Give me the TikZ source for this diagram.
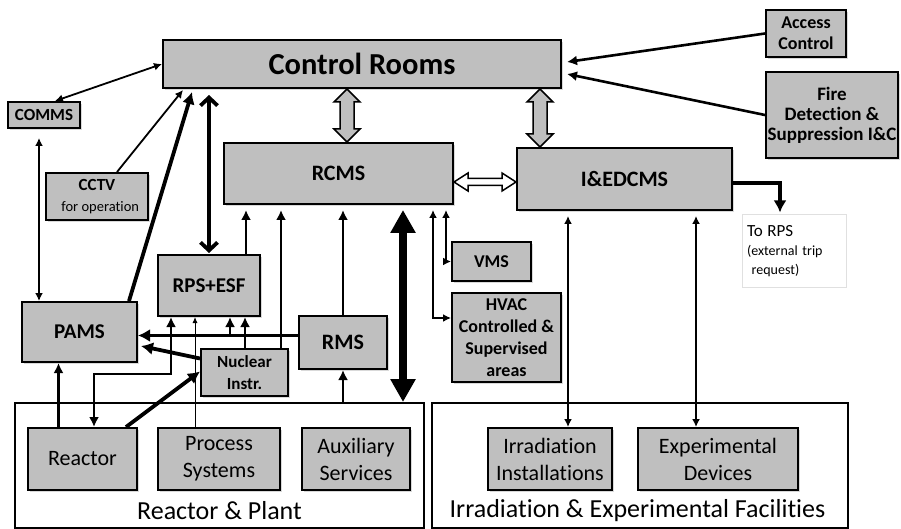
\documentclass[tikz,border=0pt]{standalone}
\usepackage{fontspec}
\setmainfont{Carlito}[Ligatures=NoCommon]
\usetikzlibrary{arrows.meta,calc,shadows}
\definecolor{boxgray}{HTML}{BFBFBF}
\newcommand\fsz[2]{\fontsize{#1}{#2}\selectfont}
\begin{document}
\begin{tikzpicture}[x=1pt,y=-1pt,
  box/.style={draw, fill=boxgray, line width=2pt, inner sep=0pt, align=center,
    font=\bfseries\fsz{17}{21},
    drop shadow={shadow xshift=2pt,shadow yshift=-2pt,opacity=0.3}},
  plainbox/.style={box, font=\fsz{22}{27}},
  frame/.style={draw, line width=2pt, fill=white, inner sep=0pt},
  thinarr/.style={line width=1.8pt, >={Latex[length=8pt,width=8pt]}},
  medarr/.style={line width=2.6pt, >={Latex[length=10pt,width=10pt]}},
  thickarr/.style={line width=3.8pt, >={Latex[length=12pt,width=13pt]}},
  barbarr/.style={line width=3.8pt, >={Straight Barb[length=8pt,width=17pt]}},
  bigarr/.style={line width=8pt, {Triangle[length=23pt,width=24pt]}-{Triangle[length=23pt,width=24pt]}},
  hairarr/.style={line width=0.9pt, >={Latex[length=6pt,width=5pt]}},
  gap/.style={shorten >=5pt},
  fatv/.style={draw, line width=1.5pt, fill=boxgray, line join=miter},
  fath/.style={draw, line width=1.5pt, fill=white, line join=miter},
  torpsbox/.style={draw=black!12, line width=1pt, fill=white, inner sep=0pt, align=left,
    text width=94pt, font=\fsz{14}{19}},
  framelabel/.style={font=\fsz{26}{30}},
]
\useasboundingbox (0,0) rectangle (901,529);

% frames
\node[frame, minimum width=409pt, minimum height=125pt] (rp) at (219.5,465.5) {};
\node[frame, minimum width=416pt, minimum height=125pt] (ief) at (640,465.5) {};
\node[framelabel] (rplab) at (219.5,511) {Reactor \& Plant};
\node[framelabel] (ieflab) at (637.5,511) {Irradiation \& Experimental Facilities};

% boxes
\node[box, minimum width=398pt, minimum height=48pt, font=\bfseries\fsz{30.5}{34}] (cr) at (362,64) {Control Rooms};
\node[box, minimum width=72pt, minimum height=26pt] (comms) at (44,115) {COMMS};
\node[box, minimum width=102pt, minimum height=47pt] (cctv) at (97,196.5) {CCTV\\{\mdseries\fsz{14.5}{17}\ \ for operation}};
\node[box, minimum width=229pt, minimum height=61pt, font=\bfseries\fsz{22}{26}] (rcms) at (338.5,173.5) {RCMS};
\node[box, minimum width=215pt, minimum height=62pt, font=\bfseries\fsz{22}{26}] (ied) at (624.5,179) {I\&EDCMS};
\node[box, minimum width=80pt, minimum height=47pt, font=\bfseries\fsz{18}{21}] (acc) at (806,33.5) {Access\\Control};
\node[box, minimum width=132pt, minimum height=86pt, font=\bfseries\fsz{19}{20}] (fire) at (832,115) {Fire\\Detection \&\\Suppression I\&C};
\node[torpsbox, minimum width=104pt, minimum height=72pt] (torps) at (794,251) {{\fsz{17}{19}To RPS}\\(external trip\\\ request)};
\node[box, minimum width=115pt, minimum height=60pt, font=\bfseries\fsz{21}{25}] (pams) at (79.5,332) {PAMS};
\node[box, minimum width=102pt, minimum height=61pt, font=\bfseries\fsz{21}{25}] (rps) at (209,285.5) {RPS+ESF};
\node[box, minimum width=87pt, minimum height=47pt, font=\bfseries\fsz{17}{22}] (nuc) at (244.5,372.5) {Nuclear\\Instr.};
\node[box, minimum width=88pt, minimum height=53pt, font=\bfseries\fsz{22}{26}] (rms) at (343,342.5) {RMS};
\node[box, minimum width=79pt, minimum height=39pt, font=\bfseries\fsz{18}{21}] (vms) at (491.5,261.5) {VMS};
\node[box, minimum width=109pt, minimum height=89pt, font=\bfseries\fsz{18}{22}] (hvac) at (506.5,337.5) {HVAC\\Controlled \&\\Supervised\\areas};
\node[plainbox, minimum width=109pt, minimum height=62pt] (reactor) at (82.5,459) {Reactor};
\node[plainbox, minimum width=122pt, minimum height=62pt] (proc) at (219,459) {Process\\Systems};
\node[plainbox, minimum width=108pt, minimum height=62pt] (aux) at (356,459) {Auxiliary\\Services};
\node[plainbox, minimum width=124pt, minimum height=62pt] (irr) at (550,459) {Irradiation\\Installations};
\node[plainbox, minimum width=160pt, minimum height=62pt] (exp) at (718,459) {Experimental\\Devices};

% fat hollow arrows
\draw[fatv] let \p1=($(cr.south)+(-15,0)$), \p2=(rcms.north) in
  (\x1,\y1) -- (\x1+13pt,\y1-13pt) -- (\x1+7pt,\y1-13pt) -- (\x1+7pt,\y2+13pt) -- (\x1+13pt,\y2+13pt)
  -- (\x1,\y2) -- (\x1-13pt,\y2+13pt) -- (\x1-7pt,\y2+13pt) -- (\x1-7pt,\y1-13pt) -- (\x1-13pt,\y1-13pt) -- cycle;
\draw[fatv] let \p1=($(cr.south east)+(-22,0)$), \p2=(ied.north) in
  (\x1,\y1) -- (\x1+13pt,\y1-13pt) -- (\x1+7pt,\y1-13pt) -- (\x1+7pt,\y2+13pt) -- (\x1+13pt,\y2+13pt)
  -- (\x1,\y2) -- (\x1-13pt,\y2+13pt) -- (\x1-7pt,\y2+13pt) -- (\x1-7pt,\y1-13pt) -- (\x1-13pt,\y1-13pt) -- cycle;
\draw[fath] let \p1=($(rcms.east)+(0,8.5)$), \p2=(ied.west) in
  (\x1,\y1) -- (\x1+14pt,\y1+9pt) -- (\x1+14pt,\y1+3.5pt) -- (\x2-14pt,\y1+3.5pt) -- (\x2-14pt,\y1+9pt)
  -- (\x2,\y1) -- (\x2-14pt,\y1-9pt) -- (\x2-14pt,\y1-3.5pt) -- (\x1+14pt,\y1-3.5pt) -- (\x1+14pt,\y1-9pt) -- cycle;

% connectors to control rooms
\draw[thinarr, <->] ($(comms.north)+(11,0)$) -- (cr.west);
\draw[thinarr, ->] ($(cctv.north)+(20,0)$) -- ($(cr.south west)+(21,1)$);
\draw[thickarr, ->] ($(pams.north east)+(-9,0)$) -- ($(cr.south west)+(30,3)$);
\draw[barbarr, <->, shorten <=1pt] (rps.north) -- ($(rps.north |- cr.south)+(0,6)$);
\draw[medarr, ->] (acc.west) -- ($(cr.east)+(5,-2)$);
\draw[medarr, ->] (fire.west) -- ($(cr.east)+(5,10)$);

% COMMS - PAMS
\coordinate (c1) at ($(comms.south)+(-5,0)$);
\draw[thinarr, <->, shorten <=9pt] (c1) -- (c1 |- pams.north);

% into RCMS
\coordinate (c2) at ($(rps.north east)+(-15,0)$);
\draw[medarr, ->, gap] (c2) -- (c2 |- rcms.south);
\coordinate (c3) at ($(nuc.north east)+(-8,0)$);
\draw[medarr, ->, gap] (c3) -- (c3 |- rcms.south);
\draw[medarr, ->, gap] (rms.north) -- (rms.north |- rcms.south);
\coordinate (c4) at ($(rcms.south east)+(-51,0)$);
\draw[bigarr, shorten >=5pt] (c4 |- rp.north) -- (c4);
\draw[thinarr, <->, gap] (vms.west) -| ($(rcms.south east)+(-8,0)$);
\draw[thinarr, <->, gap] ($(hvac.north west)+(0,26)$) -| ($(rcms.south east)+(-21,0)$);

% I&EDCMS
\coordinate (c5) at ($(irr.north)+(18,0)$);
\draw[thinarr, <->, gap] (c5) -- (c5 |- ied.south);
\coordinate (c6) at ($(exp.north)+(-22,0)$);
\draw[thinarr, <->, gap] (c6) -- (c6 |- ied.south);
\draw[thickarr, ->] ($(ied.east)+(0,4)$) -| ($(torps.north)+(-14,-2)$);

% plant side
\coordinate (r1) at ($(rms.west)+(0,-7)$);
\draw[thickarr, ->] (r1) -- (r1 -| pams.east);
\coordinate (q1) at ($(rps.south)+(21,0)$);
\draw[medarr, ->] (q1 |- r1) -- (q1);
\coordinate (q2) at ($(rps.south)+(36,0)$);
\draw[medarr, ->] (q2 |- nuc.north) -- (q2);
\draw[thickarr, ->] ($(nuc.west)+(0,-14)$) -- ($(pams.east)+(3,14)$);
\draw[thickarr, ->] ($(reactor.north east)+(-12,0)$) -- ($(nuc.west)+(0,-1)$);
\coordinate (q3) at ($(reactor.north)+(-24,0)$);
\draw[medarr, ->] (q3) -- (q3 |- pams.south);
\coordinate (e1) at ($(rps.south west)+(14,0)$);
\coordinate (e2) at ($(reactor.north west)+(67,0)$);
\draw[medarr, <->] (e1) |- ($(e2)+(0,-53)$) -- (e2);
\coordinate (q4) at ($(rps.south)+(-14,0)$);
\draw[hairarr, ->] (q4 |- proc.north) -- (q4);
\draw[medarr, ->] (rms.south |- rp.north) -- (rms.south);
\end{tikzpicture}
\end{document}
